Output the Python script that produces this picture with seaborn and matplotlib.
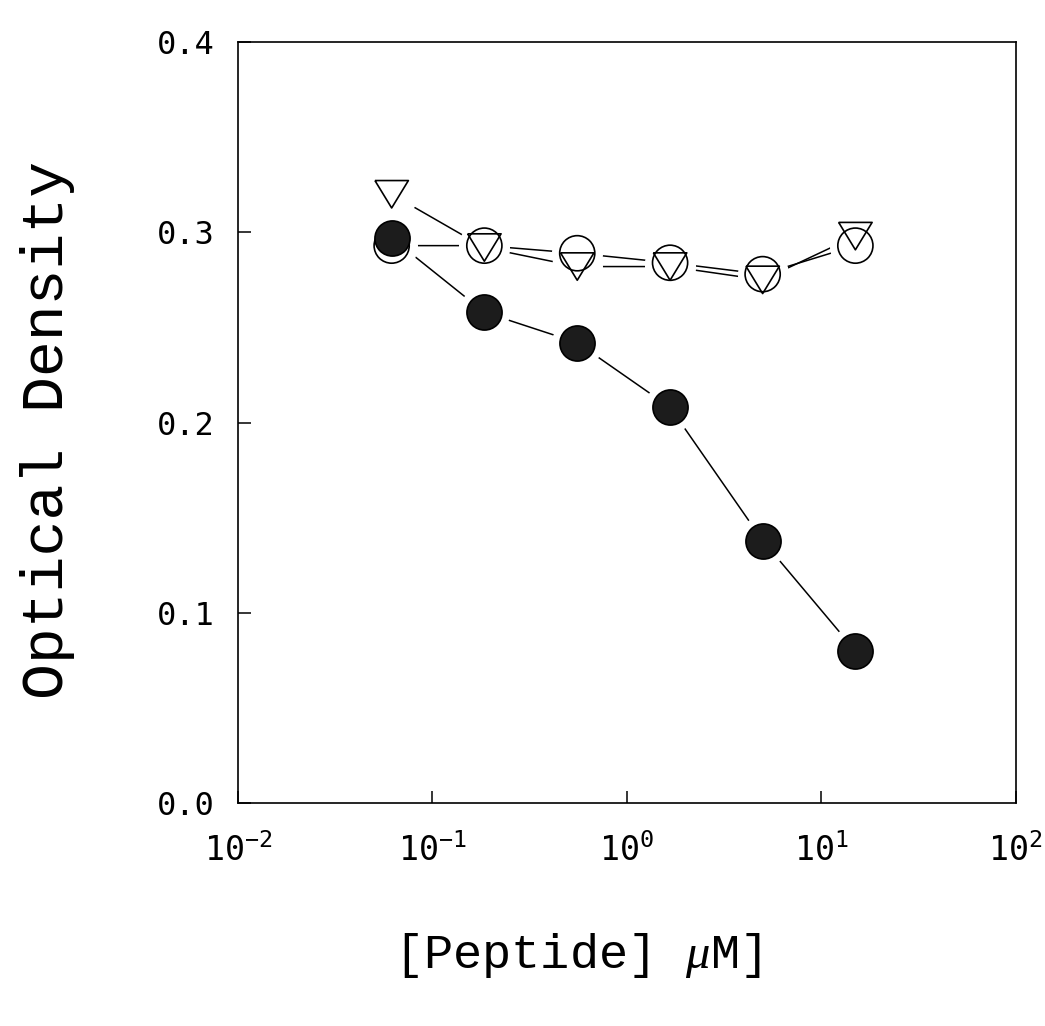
import matplotlib
matplotlib.use("Agg")
import matplotlib.pyplot as plt
import seaborn as sns
import pandas as pd
import numpy as np
from matplotlib.ticker import FixedLocator, FormatStrFormatter, LogLocator, NullLocator

# ---- data ----
conc = [0.0617, 0.185, 0.556, 1.67, 5.0, 15.0]          # [Peptide] uM
od_filled = [0.297, 0.258, 0.242, 0.208, 0.138, 0.080]  # filled circles
od_open = [0.293, 0.293, 0.289, 0.284, 0.278, 0.293]    # open circles
od_tri = [0.320, 0.292, 0.282, 0.282, 0.275, 0.298]     # open down-triangles
y_ticks = [0.0, 0.1, 0.2, 0.3, 0.4]

df = pd.concat([
    pd.DataFrame({"conc": conc, "od": od_filled, "series": "filled"}),
    pd.DataFrame({"conc": conc, "od": od_open, "series": "open"}),
    pd.DataFrame({"conc": conc, "od": od_tri, "series": "tri"}),
], ignore_index=True)

sns.set_theme(style="white")
plt.rcParams["font.family"] = ["DejaVu Sans Mono", "DejaVu Sans"]
plt.rcParams["mathtext.fontset"] = "custom"
plt.rcParams["mathtext.rm"] = "DejaVu Sans Mono"
plt.rcParams["mathtext.it"] = "Liberation Serif:italic"
plt.rcParams["mathtext.bf"] = "DejaVu Sans Mono:bold"

fig = plt.figure(figsize=(10.45, 10.26), dpi=100)
ax = fig.add_axes([0.2278, 0.2173, 0.7440, 0.7417])
ax.set_xscale("log")

# connecting lines
for name in ["filled", "open", "tri"]:
    sub = df[df["series"] == name]
    sns.lineplot(data=sub, x="conc", y="od", color="black", lw=1.1,
                 ax=ax, zorder=1, legend=False, estimator=None, sort=False)

# white halos so the lines stop short of the symbols
sns.scatterplot(data=df, x="conc", y="od", marker="o", s=1350, color="white",
                linewidth=0, ax=ax, zorder=2, legend=False)

tri_marker = [(-1, 0.82), (1, 0.82), (0, -0.82), (-1, 0.82)]

sub = df[df["series"] == "open"]
sns.scatterplot(data=sub, x="conc", y="od", marker="o", s=640,
                facecolor="none", edgecolor="black", linewidth=1.2,
                ax=ax, zorder=3, legend=False)
sub = df[df["series"] == "tri"]
sns.scatterplot(data=sub, x="conc", y="od", marker=tri_marker, s=580,
                facecolor="none", edgecolor="black", linewidth=1.2,
                ax=ax, zorder=4, legend=False)
sub = df[df["series"] == "filled"]
sns.scatterplot(data=sub, x="conc", y="od", marker="o", s=640,
                facecolor="#1c1c1c", edgecolor="black", linewidth=1.2,
                ax=ax, zorder=5, legend=False)

ax.set_xlim(1e-2, 1e2)
ax.set_ylim(0, 0.4)
ax.yaxis.set_major_locator(FixedLocator(y_ticks))
ax.yaxis.set_major_formatter(FormatStrFormatter("%.1f"))
ax.xaxis.set_major_locator(LogLocator(base=10, numticks=10))
ax.xaxis.set_minor_locator(NullLocator())

for s in ax.spines.values():
    s.set_visible(True)
    s.set_color("black")
    s.set_linewidth(1.2)

ax.tick_params(axis="y", which="major", direction="in", length=9, width=1.1,
               labelsize=23, pad=17, left=True, right=False, colors="black")
ax.tick_params(axis="x", which="major", direction="in", length=9, width=1.1,
               labelsize=24, pad=22, bottom=True, top=False, colors="black")

ax.set_xlabel(r"[Peptide] $\mu$M]", family="Liberation Mono", fontsize=35,
              color="black")
ax.xaxis.set_label_coords(0.436, -0.20)
ax.xaxis.label.set_va("center")
ax.xaxis.label.set_ha("center")

ax.set_ylabel("Optical Density", family="Liberation Mono", fontsize=43,
              color="black")
ax.yaxis.set_label_coords(-0.245, 0.49)
ax.yaxis.label.set_va("center")
ax.yaxis.label.set_ha("center")

fig.savefig("out.png", dpi=100, facecolor="white")
